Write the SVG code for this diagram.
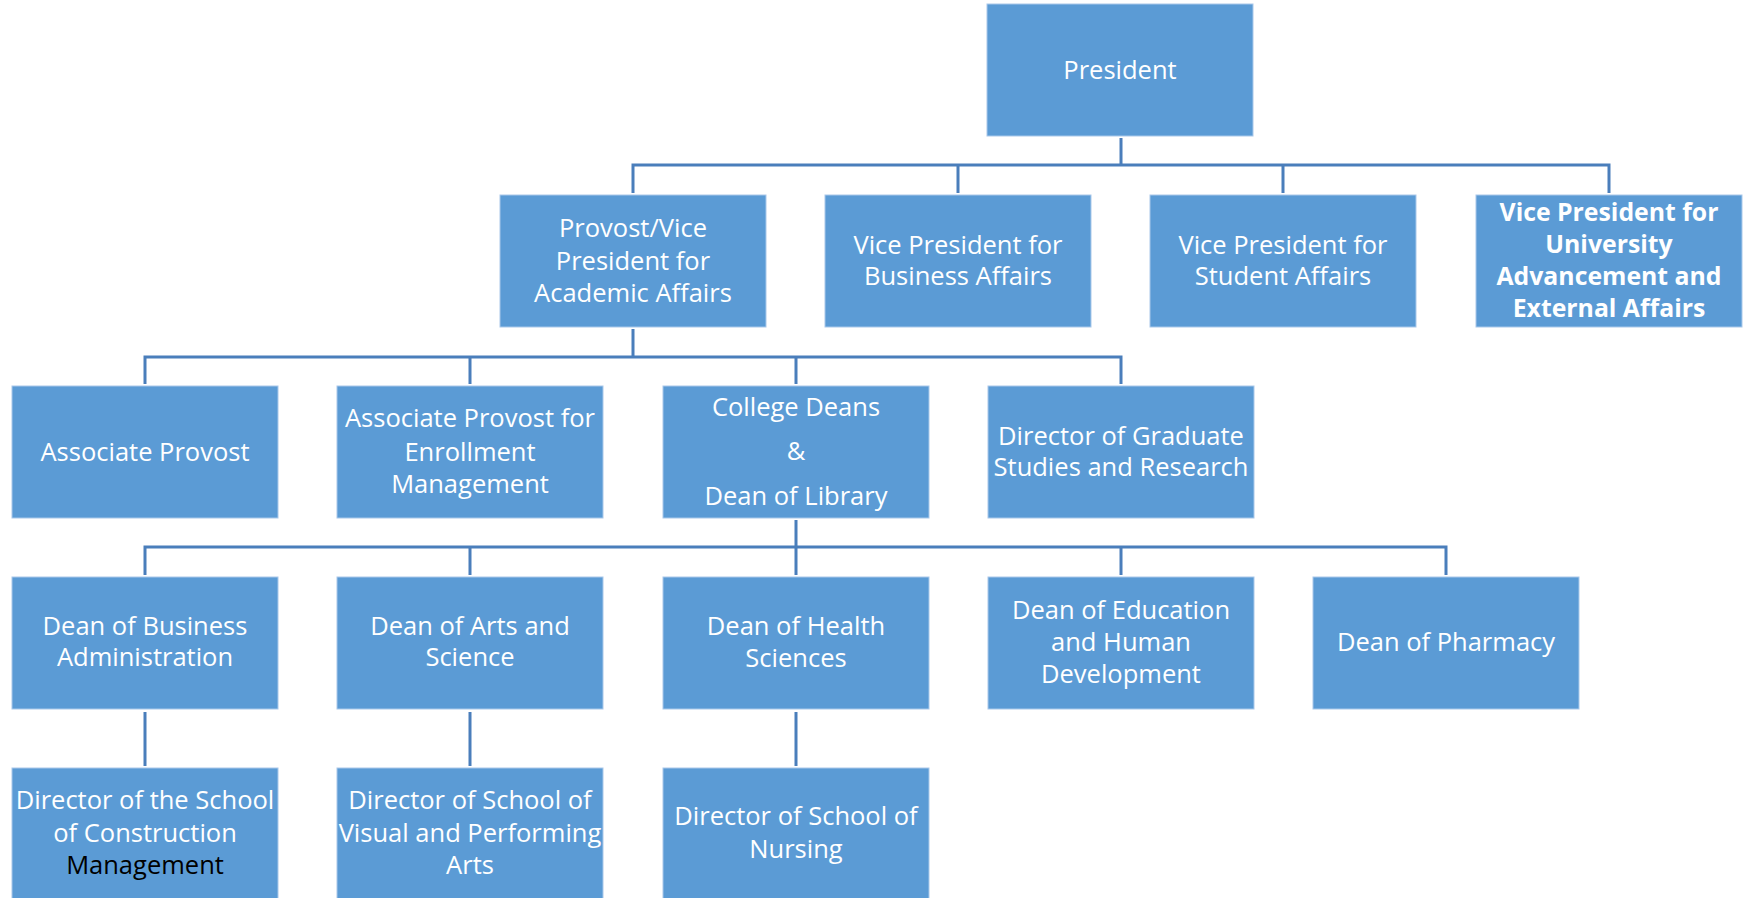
<svg xmlns="http://www.w3.org/2000/svg" width="1744" height="898" viewBox="0 0 1744 898">
<style>
.box{fill:#5B9BD5;stroke:#A9C8EA;stroke-width:1}
.t{font-family:"Open Sans","Liberation Sans",sans-serif;font-size:25.5px;fill:#FFFFFF;text-anchor:middle}
.b{font-weight:bold;font-size:24.8px}
.k{fill:#000000}
.c{fill:none;stroke:#4A7EBB;stroke-width:3}
</style>
<rect width="1744" height="898" fill="#FFFFFF"/>
<g id="connectors">
<path class="c" d="M1121 138V165M633 193V165H1609V193M958 165V193M1283 165V193"/>
<path class="c" d="M633 329V357M145 384V357H1121V384M470 357V384M796 357V384"/>
<path class="c" d="M796 520V575M145 575V547H1446V575M470 547V575M1121 547V575"/>
<path class="c" d="M145 712V766M470 712V766M796 712V766"/>
</g>
<g id="president"><rect class="box" x="987" y="4" width="266" height="132"/><text class="t" x="1120" y="79">President</text></g>
<g id="provost"><rect class="box" x="500" y="195" width="266" height="132"/><text class="t" x="633" y="237">Provost/Vice</text><text class="t" x="633" y="270">President for</text><text class="t" x="633" y="302">Academic Affairs</text></g>
<g id="vp-business"><rect class="box" x="825" y="195" width="266" height="132"/><text class="t" x="958" y="254">Vice President for</text><text class="t" x="958" y="285">Business Affairs</text></g>
<g id="vp-student"><rect class="box" x="1150" y="195" width="266" height="132"/><text class="t" x="1283" y="254">Vice President for</text><text class="t" x="1283" y="285">Student Affairs</text></g>
<g id="vp-advancement"><rect class="box" x="1476" y="195" width="266" height="132"/><text class="t b" x="1609" y="221">Vice President for</text><text class="t b" x="1609" y="253">University</text><text class="t b" x="1609" y="285">Advancement and</text><text class="t b" x="1609" y="317">External Affairs</text></g>
<g id="assoc-provost"><rect class="box" x="12" y="386" width="266" height="132"/><text class="t" x="145" y="461">Associate Provost</text></g>
<g id="assoc-provost-enrollment"><rect class="box" x="337" y="386" width="266" height="132"/><text class="t" x="470" y="427">Associate Provost for</text><text class="t" x="470" y="461">Enrollment</text><text class="t" x="470" y="493">Management</text></g>
<g id="college-deans"><rect class="box" x="663" y="386" width="266" height="132"/><text class="t" x="796" y="416">College Deans</text><text class="t" x="796" y="460">&amp;</text><text class="t" x="796" y="505">Dean of Library</text></g>
<g id="director-graduate"><rect class="box" x="988" y="386" width="266" height="132"/><text class="t" x="1121" y="445">Director of Graduate</text><text class="t" x="1121" y="476">Studies and Research</text></g>
<g id="dean-business"><rect class="box" x="12" y="577" width="266" height="132"/><text class="t" x="145" y="635">Dean of Business</text><text class="t" x="145" y="666">Administration</text></g>
<g id="dean-arts"><rect class="box" x="337" y="577" width="266" height="132"/><text class="t" x="470" y="635">Dean of Arts and</text><text class="t" x="470" y="666">Science</text></g>
<g id="dean-health"><rect class="box" x="663" y="577" width="266" height="132"/><text class="t" x="796" y="635">Dean of Health</text><text class="t" x="796" y="667">Sciences</text></g>
<g id="dean-education"><rect class="box" x="988" y="577" width="266" height="132"/><text class="t" x="1121" y="619">Dean of Education</text><text class="t" x="1121" y="651">and Human</text><text class="t" x="1121" y="683">Development</text></g>
<g id="dean-pharmacy"><rect class="box" x="1313" y="577" width="266" height="132"/><text class="t" x="1446" y="651">Dean of Pharmacy</text></g>
<g id="director-construction"><rect class="box" x="12" y="768" width="266" height="140"/><text class="t" x="145" y="809">Director of the School</text><text class="t" x="145" y="842">of Construction</text><text class="t k" x="145" y="874">Management</text></g>
<g id="director-visual"><rect class="box" x="337" y="768" width="266" height="140"/><text class="t" x="470" y="809">Director of School of</text><text class="t" x="470" y="842">Visual and Performing</text><text class="t" x="470" y="874">Arts</text></g>
<g id="director-nursing"><rect class="box" x="663" y="768" width="266" height="140"/><text class="t" x="796" y="825">Director of School of</text><text class="t" x="796" y="858">Nursing</text></g>
</svg>
